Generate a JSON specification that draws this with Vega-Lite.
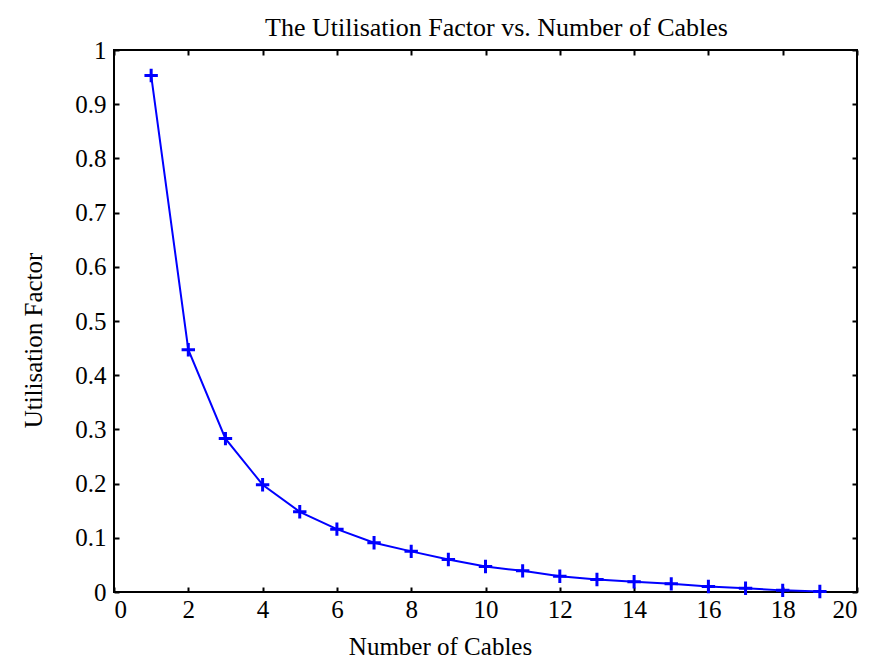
{
  "$schema": "https://vega.github.io/schema/vega-lite/v6.json",
  "width": 743,
  "height": 542,
  "autosize": "none",
  "padding": {"left": 114, "top": 50, "right": 19, "bottom": 80},
  "background": "white",
  "title": {
    "text": "The Utilisation Factor vs. Number of Cables",
    "font": "Liberation Serif",
    "fontSize": 26,
    "fontWeight": "normal",
    "color": "black",
    "anchor": "middle",
    "dx": 11,
    "offset": -3
  },
  "config": {
    "view": {"stroke": "black", "strokeWidth": 2},
    "axis": {
      "grid": false,
      "domain": false,
      "tickColor": "black",
      "tickWidth": 2,
      "tickSize": -5,
      "labelFont": "Liberation Serif",
      "labelFontSize": 25,
      "labelColor": "black",
      "titleFont": "Liberation Serif",
      "titleFontSize": 25,
      "titleFontWeight": "normal",
      "titleColor": "black"
    }
  },
  "data": {
    "values": [
      {"cables": 1, "uf": 0.953},
      {"cables": 2, "uf": 0.447},
      {"cables": 3, "uf": 0.283},
      {"cables": 4, "uf": 0.198},
      {"cables": 5, "uf": 0.148},
      {"cables": 6, "uf": 0.116},
      {"cables": 7, "uf": 0.091},
      {"cables": 8, "uf": 0.075},
      {"cables": 9, "uf": 0.060},
      {"cables": 10, "uf": 0.047},
      {"cables": 11, "uf": 0.039},
      {"cables": 12, "uf": 0.029},
      {"cables": 13, "uf": 0.023},
      {"cables": 14, "uf": 0.019},
      {"cables": 15, "uf": 0.015},
      {"cables": 16, "uf": 0.010},
      {"cables": 17, "uf": 0.007},
      {"cables": 18, "uf": 0.003},
      {"cables": 19, "uf": 0.001}
    ]
  },
  "layer": [
    {
      "mark": {"type": "line", "color": "#0000ff", "strokeWidth": 2},
      "encoding": {
        "x": {
          "field": "cables", "type": "quantitative",
          "scale": {"domain": [0, 20], "nice": false, "zero": false},
          "axis": {"title": "Number of Cables", "values": [0, 2, 4, 6, 8, 10, 12, 14, 16, 18, 20], "format": "~g", "labelPadding": 10, "titleX": 326, "titlePadding": 12}
        },
        "y": {
          "field": "uf", "type": "quantitative",
          "scale": {"domain": [0, 1], "nice": false},
          "axis": {"title": "Utilisation Factor", "values": [0, 0.1, 0.2, 0.3, 0.4, 0.5, 0.6, 0.7, 0.8, 0.9, 1], "format": "~g", "labelPadding": 13, "titleY": 290, "titlePadding": 28}
        }
      }
    },
    {
      "mark": {"type": "point", "shape": "M-1,0L1,0M0,-1L0,1", "size": 180, "filled": false, "stroke": "#0000ff", "strokeWidth": 3, "opacity": 1},
      "encoding": {
        "x": {"field": "cables", "type": "quantitative", "axis": {"title": null, "labels": false, "values": [0, 2, 4, 6, 8, 10, 12, 14, 16, 18, 20]}},
        "y": {"field": "uf", "type": "quantitative", "axis": {"title": null, "labels": false, "values": [0, 0.1, 0.2, 0.3, 0.4, 0.5, 0.6, 0.7, 0.8, 0.9, 1]}}
      }
    }
  ],
  "resolve": {"axis": {"x": "independent", "y": "independent"}}
}
